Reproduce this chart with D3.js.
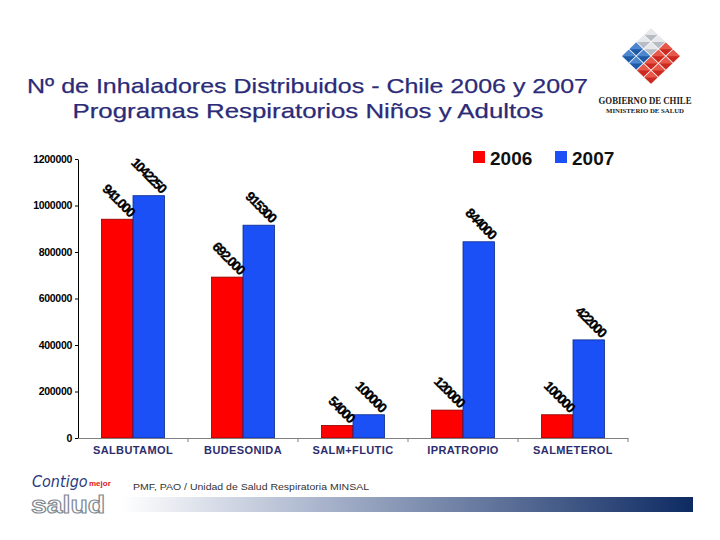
<!DOCTYPE html>
<html>
<head>
<meta charset="utf-8">
<script src="https://cdn.jsdelivr.net/npm/d3@7"></script>
<style>
  body { margin: 0; background: #fff; }
  svg { display: block; font-family: "Liberation Sans", Arial, sans-serif; }
</style>
</head>
<body>
<svg id="chart" width="720" height="540"></svg>
<script>
// ---- data ----
const categories = ["SALBUTAMOL", "BUDESONIDA", "SALM+FLUTIC", "IPRATROPIO", "SALMETEROL"];
const seriesNames = ["2006", "2007"];
const values2006 = [941000, 692000, 54000, 120000, 100000];
const values2007 = [1042250, 915300, 100000, 844000, 422000];
const labels2006 = ["941.000", "692.000", "54000", "120000", "100000"];
const labels2007 = ["1042250", "915300", "100000", "844000", "422000"];
const yTicks = [0, 200000, 400000, 600000, 800000, 1000000, 1200000];
const titleLines = ["Nº de Inhaladores Distribuidos - Chile 2006 y 2007", "Programas Respiratorios Niños y Adultos"];
const sourceText = "PMF, PAO / Unidad de Salud Respiratoria MINSAL";

const colors = { "2006": "#ff0000", "2007": "#1a50f5" };
const strokes = { "2006": "#8a0000", "2007": "#0b2a8a" };

const svg = d3.select("#chart");

// ---- title ----
const titleG = svg.append("g").attr("fill", "#2b2b78").attr("font-size", 21).attr("text-anchor", "middle")
  .attr("stroke", "#2b2b78").attr("stroke-width", 0.25);
titleG.append("text").attr("x", 307.5).attr("y", 93).attr("textLength", 561).attr("lengthAdjust", "spacingAndGlyphs").text(titleLines[0]);
titleG.append("text").attr("x", 308).attr("y", 118).attr("textLength", 471).attr("lengthAdjust", "spacingAndGlyphs").text(titleLines[1]);

// ---- scales ----
const x = d3.scaleBand().domain(categories).range([78, 628]).paddingInner(0).paddingOuter(0);
const xs = d3.scaleBand().domain(seriesNames).range([0, x.bandwidth()]).paddingInner(0).paddingOuter(0.746);
const y = d3.scaleLinear().domain([0, 1200000]).range([438, 159]);

// ---- y axis ----
const yAxis = svg.append("g").attr("transform", "translate(78,0)")
  .call(d3.axisLeft(y).tickValues(yTicks).tickFormat(d3.format("d")).tickSize(3).tickSizeOuter(0));
yAxis.select(".domain").attr("stroke", "#000");
yAxis.selectAll(".tick line").attr("stroke", "#000");
yAxis.selectAll(".tick text").attr("font-size", 10.5).attr("font-weight", "bold").attr("fill", "#000")
  .attr("font-family", "'Liberation Sans', Arial, sans-serif").attr("x", -6).attr("letter-spacing", -0.3);

// ---- bars ----
const data = categories.map((c, i) => ({
  cat: c,
  items: [
    { s: "2006", v: values2006[i], label: labels2006[i] },
    { s: "2007", v: values2007[i], label: labels2007[i] }
  ]
}));

const groups = svg.append("g").selectAll("g").data(data).join("g")
  .attr("transform", d => `translate(${x(d.cat)},0)`);

groups.selectAll("rect").data(d => d.items).join("rect")
  .attr("x", d => xs(d.s))
  .attr("width", xs.bandwidth())
  .attr("y", d => y(d.v))
  .attr("height", d => y(0) - y(d.v))
  .attr("fill", d => colors[d.s])
  .attr("stroke", d => strokes[d.s])
  .attr("stroke-width", 0.8);

groups.selectAll("text.val").data(d => d.items).join("text")
  .attr("class", "val")
  .attr("transform", d => `translate(${xs(d.s) + xs.bandwidth() - 4},${y(d.v) - 2}) rotate(45)`)
  .attr("text-anchor", "end")
  .attr("font-size", 13.5)
  .attr("font-weight", "bold")
  .attr("letter-spacing", -1.4)
  .attr("fill", "#000")
  .attr("stroke", "#000").attr("stroke-width", 0.3)
  .text(d => d.label);

// ---- x axis ----
const xAxis = svg.append("g").attr("transform", "translate(0,438)")
  .call(d3.axisBottom(x).tickSize(0).tickSizeOuter(0).tickPadding(8));
xAxis.select(".domain").attr("stroke", "#808080");
xAxis.selectAll(".tick text").attr("font-size", 11).attr("font-weight", "bold").attr("fill", "#2d2d6e")
  .attr("letter-spacing", 0.4).attr("font-family", "'Liberation Sans', Arial, sans-serif");
xAxis.selectAll("line.sep").data(categories).join("line")
  .attr("class", "sep")
  .attr("x1", d => x(d) + x.bandwidth()).attr("x2", d => x(d) + x.bandwidth())
  .attr("y1", 0).attr("y2", 4).attr("stroke", "#808080");

// ---- legend ----
const legend = svg.append("g");
const legendX = { "2006": 473, "2007": 555 };
seriesNames.forEach(s => {
  legend.append("rect").attr("x", legendX[s]).attr("y", 151).attr("width", 12).attr("height", 12).attr("fill", colors[s]);
  legend.append("text").attr("x", legendX[s] + 17).attr("y", 165).attr("font-size", 19).attr("font-weight", "bold")
    .attr("fill", "#111").text(s);
});

// ---- Gobierno de Chile logo ----
const logo = svg.append("g");
const cells = [];
for (let i = 0; i < 4; i++) for (let j = 0; j < 4; j++) {
  let c, t;
  if (i >= 2) { c = "#cc2a20"; t = "#e8584a"; }
  else if (j >= 2) { c = "#1d5aa8"; t = "#4c86cf"; }
  else { c = "#b8bcc4"; t = "#e6e8ec"; }
  cells.push({ i, j, c, t });
}
const cdx = 7.4, cdy = 7.1, cx0 = 651, cy0 = 35;
const cellPos = d => [cx0 + (d.i - d.j) * cdx, cy0 + (d.i + d.j) * cdy];
logo.selectAll("path.cb").data(cells).join("path").attr("class", "cb")
  .attr("d", d => {
    const [cx, cy] = cellPos(d); const h = 6.9, v = 6.6;
    return `M${cx},${cy - v}L${cx + h},${cy}L${cx},${cy + v}L${cx - h},${cy}Z`;
  })
  .attr("fill", d => d.c).attr("stroke", "#fff").attr("stroke-width", 0.6);
logo.selectAll("path.ct").data(cells).join("path").attr("class", "ct")
  .attr("d", d => {
    const [cx, cy] = cellPos(d); const h = 6.9, v = 6.6;
    return `M${cx},${cy - v}L${cx + h},${cy}L${cx - h},${cy}Z`;
  })
  .attr("fill", d => d.t).attr("stroke", "none");
logo.append("text").attr("x", 645).attr("y", 104).attr("text-anchor", "middle")
  .attr("font-family", "'Liberation Serif', 'DejaVu Serif', serif").attr("font-weight", "bold")
  .attr("font-size", 11).attr("fill", "#1a1a1a").attr("textLength", 93).attr("lengthAdjust", "spacingAndGlyphs")
  .text("GOBIERNO DE CHILE");
logo.append("text").attr("x", 645).attr("y", 113).attr("text-anchor", "middle")
  .attr("font-family", "'Liberation Serif', 'DejaVu Serif', serif").attr("font-weight", "bold")
  .attr("font-size", 6.5).attr("fill", "#1a1a1a").attr("textLength", 78).attr("lengthAdjust", "spacingAndGlyphs")
  .text("MINISTERIO DE SALUD");

// ---- footer ----
const defs = svg.append("defs");
const grad = defs.append("linearGradient").attr("id", "footGrad").attr("x1", "0%").attr("x2", "100%");
grad.append("stop").attr("offset", "0%").attr("stop-color", "#ffffff");
grad.append("stop").attr("offset", "35%").attr("stop-color", "#a9b4cc");
grad.append("stop").attr("offset", "100%").attr("stop-color", "#0d2a62");
svg.append("rect").attr("x", 122).attr("y", 497).attr("width", 571).attr("height", 15).attr("fill", "url(#footGrad)");
svg.append("text").attr("x", 133).attr("y", 490).attr("font-size", 9.5).attr("fill", "#333")
  .attr("font-family", "'Liberation Sans', Arial, sans-serif")
  .attr("textLength", 236).attr("lengthAdjust", "spacingAndGlyphs").text(sourceText);

const foot = svg.append("g");
foot.append("text").attr("x", 32).attr("y", 487).attr("font-size", 16).attr("font-style", "italic")
  .attr("font-family", "'DejaVu Sans Condensed', 'Liberation Sans Narrow', sans-serif")
  .attr("fill", "#2b3a7c").text("Contigo");
foot.append("text").attr("x", 89).attr("y", 486).attr("font-size", 8).attr("font-weight", "bold")
  .attr("fill", "#e0201a").text("mejor");
foot.append("text").attr("x", 31).attr("y", 513).attr("font-size", 24).attr("font-weight", "bold")
  .attr("fill", "#fff").attr("stroke", "#808890").attr("stroke-width", 1.1)
  .attr("textLength", 74).attr("lengthAdjust", "spacingAndGlyphs").text("salud");
</script>
</body>
</html>
